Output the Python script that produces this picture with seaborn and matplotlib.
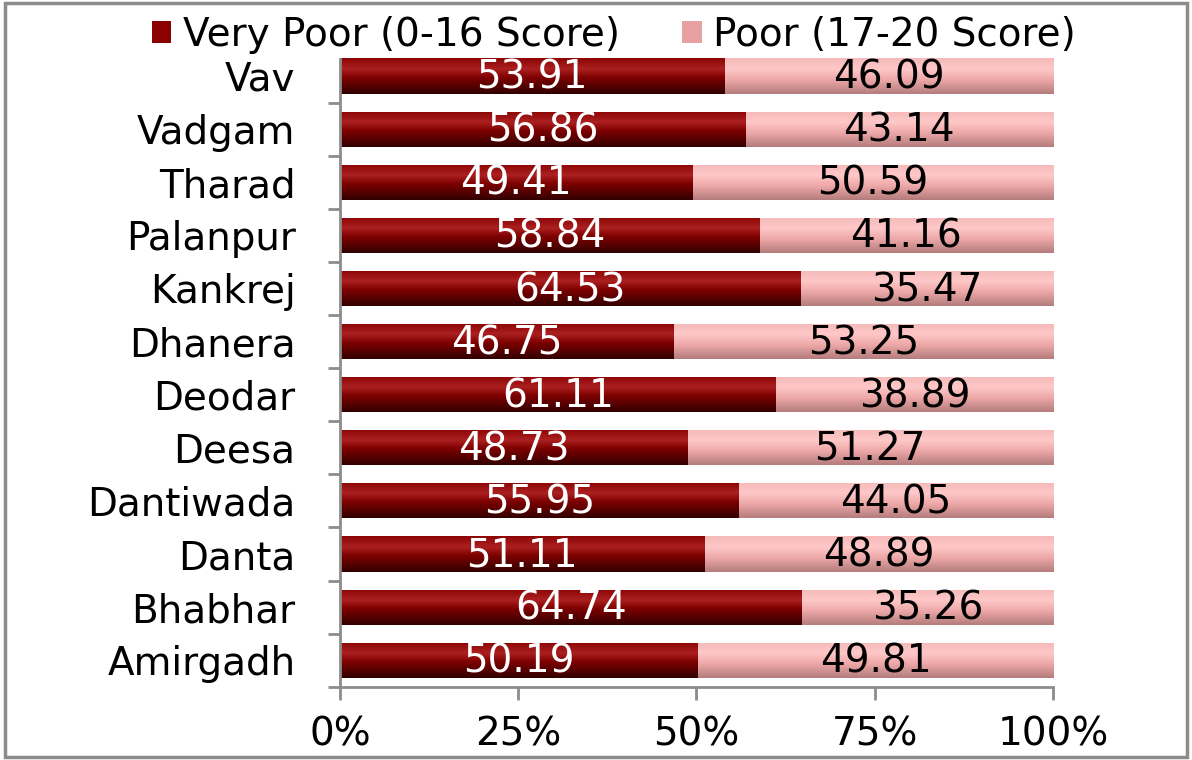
import numpy as np
import pandas as pd
import matplotlib
matplotlib.use("Agg")
import matplotlib.pyplot as plt
import seaborn as sns
from matplotlib.patches import Patch, Rectangle

# ---- data ----
blocks = ["Vav", "Vadgam", "Tharad", "Palanpur", "Kankrej", "Dhanera",
          "Deodar", "Deesa", "Dantiwada", "Danta", "Bhabhar", "Amirgadh"]
very_poor = [53.91, 56.86, 49.41, 58.84, 64.53, 46.75,
             61.11, 48.73, 55.95, 51.11, 64.74, 50.19]
poor = [46.09, 43.14, 50.59, 41.16, 35.47, 53.25,
        38.89, 51.27, 44.05, 48.89, 35.26, 49.81]
series_names = ["Very Poor (0-16 Score)", "Poor (17-20 Score)"]
x_ticks = [0, 25, 50, 75, 100]
x_ticklabels = ["0%", "25%", "50%", "75%", "100%"]

df = pd.DataFrame({"block": blocks, "very_poor": very_poor, "poor": poor})
df["total"] = df["very_poor"] + df["poor"]

sns.set_theme(style="white")
plt.rcParams["font.family"] = ["DejaVu Sans"]
plt.rcParams["text.color"] = "black"

dark = "#8B0000"
pink = "#E8A0A0"
FS = 28

fig = plt.figure(figsize=(11.92, 7.6), dpi=100)
ax = fig.add_axes([0.2852, 0.0963, 0.5982, 0.8261])

sns.barplot(data=df, x="total", y="block", orient="h", color=pink,
            width=0.66, ax=ax, saturation=1, linewidth=0)
n = len(ax.patches)
sns.barplot(data=df, x="very_poor", y="block", orient="h", color=dark,
            width=0.66, ax=ax, saturation=1, linewidth=0)
pink_patches = ax.patches[:n]
dark_patches = ax.patches[n:]

def gradient(stops):
    t = np.linspace(0, 1, 64)
    pos = [s[0] for s in stops]
    cols = np.array([s[1] for s in stops], dtype=float) / 255.0
    rgb = np.stack([np.interp(t, pos, cols[:, k]) for k in range(3)], axis=1)
    return rgb[:, None, :]

grad_dark = gradient([(0, (140, 5, 5)), (0.3, (172, 32, 32)),
                      (0.55, (125, 0, 0)), (1, (50, 0, 0))])
grad_pink = gradient([(0, (245, 185, 185)), (0.3, (255, 200, 200)),
                      (0.6, (238, 168, 168)), (1, (180, 125, 125))])

for patches, grad in ((pink_patches, grad_pink), (dark_patches, grad_dark)):
    for p in patches:
        x0, y0 = p.get_x(), p.get_y()
        x1, y1 = x0 + p.get_width(), y0 + p.get_height()
        im = ax.imshow(grad, extent=(x0, x1, y1, y0), origin="upper",
                       aspect="auto", zorder=p.get_zorder() + 0.01,
                       interpolation="bilinear")
        im.set_clip_path(p)

# value labels
for p, v in zip(dark_patches, very_poor):
    ax.text(p.get_x() + p.get_width() / 2, p.get_y() + p.get_height() / 2 + 0.03,
            f"{v:.2f}", color="white", ha="center", va="center",
            fontsize=FS, zorder=10)
for p, dp, v in zip(pink_patches, dark_patches, poor):
    xs = dp.get_width()
    xe = p.get_width()
    ax.text((xs + xe) / 2, p.get_y() + p.get_height() / 2 + 0.03,
            f"{v:.2f}", color="black", ha="center", va="center",
            fontsize=FS, zorder=10)

ax.set_xlim(0, 100)
ax.set_ylim(11.5, -0.32)
ax.set_xlabel("")
ax.set_ylabel("")
ax.set_xticks(x_ticks)
ax.set_xticklabels(x_ticklabels, fontsize=FS)
ax.set_yticks(range(len(blocks)))
ax.set_yticklabels(blocks, fontsize=FS)
ax.tick_params(axis="y", length=0, pad=32, labelcolor="black")
ax.tick_params(axis="x", length=9, width=2, color="#8c8c8c", direction="out",
               pad=12, bottom=True, labelcolor="black")
ax.set_yticks(np.arange(-0.5, 11.6, 1.0)[1:], minor=True)
ax.tick_params(axis="y", which="minor", length=9, width=2, color="#8c8c8c",
               direction="out", left=True)
for s in ["top", "right"]:
    ax.spines[s].set_visible(False)
for s in ["left", "bottom"]:
    ax.spines[s].set_color("#8c8c8c")
    ax.spines[s].set_linewidth(2)
ax.grid(False)

handles = [Patch(facecolor=dark, edgecolor="none"),
           Patch(facecolor=pink, edgecolor="none")]
fig.legend(handles, series_names, loc="upper center",
           bbox_to_anchor=(0.515, 1.0), ncol=2, frameon=False,
           fontsize=FS, handlelength=0.5, handleheight=0.5,
           handletextpad=0.3, columnspacing=1.6, borderaxespad=0.0)

fig.patches.append(Rectangle((0.004, 0.004), 0.992, 0.992,
                             transform=fig.transFigure, fill=False,
                             edgecolor="#8c8c8c", linewidth=2.5))

fig.savefig("out.png", dpi=100)
